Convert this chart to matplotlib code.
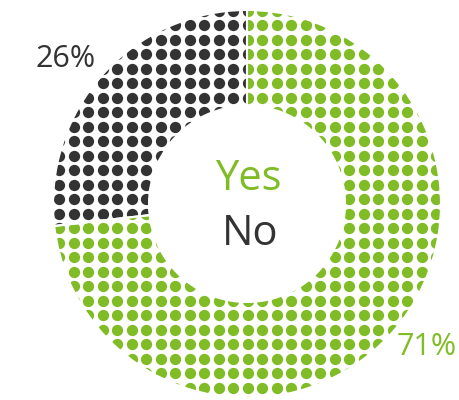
import matplotlib
matplotlib.use('Agg')
import matplotlib.pyplot as plt
import numpy as np

labels = ['No', 'Yes']
values = [26, 71]
colors = ['#333333', '#80bc26']
pct_labels = ['26%', '71%']

W, H = 459, 400
cx, cy = 247, H - 204
R, r = 194, 98
pitch = 14.5

plt.rcParams['font.family'] = ['Open Sans', 'DejaVu Sans']

fig = plt.figure(figsize=(W / 100, H / 100), dpi=100)
ax = fig.add_axes([0, 0, 1, 1])

wedges, _ = ax.pie(values, startangle=90, counterclock=True, radius=R, center=(cx, cy),
                   wedgeprops=dict(width=R - r, facecolor='none', edgecolor='white', linewidth=1.5))

# dot pattern, clipped by each wedge
gx = cx + 0.5 + pitch * np.arange(-15, 16)
gy = H - (25 + pitch * np.arange(-2, 28))
xx, yy = np.meshgrid(gx, gy)
for w, c in zip(wedges, colors):
    sc = ax.scatter(xx.ravel(), yy.ravel(), s=66, c=c, linewidths=0, zorder=1)
    sc.set_clip_path(w)
    w.set_zorder(3)

ax.text(66, H - 67, pct_labels[0], color=colors[0], fontsize=22, ha='center', va='baseline')
ax.text(397, H - 355, pct_labels[1], color=colors[1], fontsize=22, ha='left', va='baseline')
ax.text(248, H - 190, labels[1], color=colors[1], fontsize=30, ha='center', va='baseline')
ax.text(250, H - 245, labels[0], color=colors[0], fontsize=30, ha='center', va='baseline')

ax.set_xlim(0, W)
ax.set_ylim(0, H)
ax.axis('off')

fig.savefig('out.png', dpi=100)
